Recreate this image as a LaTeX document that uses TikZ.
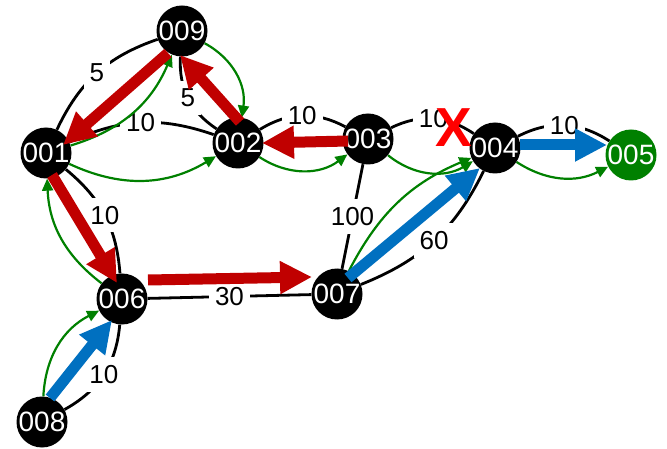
\documentclass[tikz,border=0pt]{standalone}
\usepackage{fontspec}
\setmainfont{Liberation Sans}
\usetikzlibrary{arrows.meta}
\definecolor{gr}{RGB}{0,128,0}
\definecolor{rd}{RGB}{192,0,0}
\definecolor{bl}{RGB}{0,112,192}
\pgfdeclarelayer{bg}\pgfdeclarelayer{fg}\pgfsetlayers{bg,main,fg}
\tikzset{
 vtx/.style={circle,fill=black,text=white,minimum size=51pt,inner sep=0pt,font=\fontsize{28}{28}\selectfont},
 wedge/.style={draw=black,line width=2.8pt},
 wlab/.style={fill=white,inner xsep=6pt,inner ysep=8pt,font=\fontsize{26}{26}\selectfont},
 garrow/.style={draw=gr,line width=2.2pt,-{Triangle[width=11pt,length=12pt]}},
 bigarrow/.style={line width=11pt,-{Triangle[width=31pt,length=32pt]}},
 redarrow/.style={bigarrow,rd},
 bluearrow/.style={bigarrow,bl}
}
\begin{document}
\begin{tikzpicture}[x=1pt,y=1pt]
\useasboundingbox (0,0) rectangle (667,-449);
\node[vtx] (n009) at (182,-31) {009};
\node[vtx] (n001) at (46,-153) {001};
\node[vtx] (n002) at (238,-143) {002};
\node[vtx] (n003) at (368,-139) {003};
\node[vtx] (n004) at (495,-148) {004};
\node[vtx,fill=gr] (n005) at (631,-155) {005};
\node[vtx] (n006) at (122,-299) {006};
\node[vtx] (n007) at (337,-294) {007};
\node[vtx] (n008) at (42,-422) {008};
\begin{pgfonlayer}{bg}
\draw[wedge] (n001) to[bend left=23] node[wlab]{5} (n009);
\draw[wedge] (n009) to[bend right=30] node[wlab]{5} (n002);
\draw[wedge] (n001) to[bend left=22] node[wlab]{10} (n002);
\draw[wedge] (n002) to[bend left=30] node[wlab]{10} (n003);
\draw[wedge] (n003) to[bend left=30] node[wlab]{10} (n004);
\draw[wedge] (n004) to[bend left=30] node[wlab]{10} (n005);
\draw[wedge] (n001) to[bend left=23] node[wlab]{10} (n006);
\draw[wedge] (n006) -- node[wlab]{30} (n007);
\draw[wedge] (n008) to[bend right=28] node[wlab]{10} (n006);
\draw[wedge] (n003) -- node[wlab]{100} (n007);
\draw[wedge] (n007) to[bend right=21] node[wlab]{60} (n004);
\draw[garrow] (n001) to[bend right=25] (n009);
\draw[garrow] (n009) to[bend left=35] (n002);
\draw[garrow] (n001) to[bend right=28] (n002);
\draw[garrow] (n002) to[bend right=35] (n003);
\draw[garrow] (n003) to[bend right=35] (n004);
\draw[garrow] (n004) to[bend right=30] (n005);
\draw[garrow] (n007) to[bend left=20] (n004);
\draw[garrow] (n006) to[bend left=25] (n001);
\draw[garrow] (n008) to[bend left=30] (n006);
\end{pgfonlayer}
\begin{pgfonlayer}{fg}
\draw[redarrow] ([shift={(-20,-2)}]n003.center) -- ([shift={(24,0)}]n002.center);
\draw[redarrow] ([shift={(2,21)}]n002.center) -- ([shift={(-2,-24)}]n009.center);
\draw[redarrow] ([shift={(-14,-22)}]n009.center) -- ([shift={(17,8)}]n001.center);
\draw[redarrow] ([shift={(6,-22)}]n001.center) -- ([shift={(-5,16)}]n006.center);
\draw[redarrow] ([shift={(26,19)}]n006.center) -- ([shift={(-25,17)}]n007.center);
\draw[bluearrow] ([shift={(8,24)}]n008.center) -- ([shift={(-10,-21)}]n006.center);
\draw[bluearrow] ([shift={(11,16)}]n007.center) -- ([shift={(-15,-20)}]n004.center);
\draw[bluearrow] ([shift={(25,3)}]n004.center) -- ([shift={(-24,10)}]n005.center);
\node[text={rgb,255:red,255;green,0;blue,0},font=\fontsize{55}{55}\selectfont\bfseries,inner sep=0pt] (xmark) at (454,-128) {X};
\end{pgfonlayer}
\end{tikzpicture}
\end{document}
